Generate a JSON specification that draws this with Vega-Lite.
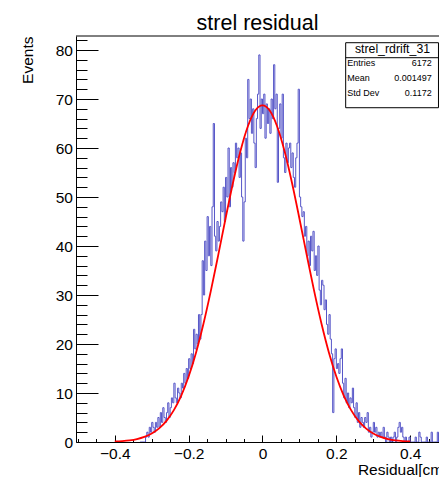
{
  "$schema": "https://vega.github.io/schema/vega-lite/v6.json",
  "width": 363,
  "height": 406,
  "autosize": {"type": "none"},
  "padding": {"left": 76, "top": 36, "right": 0, "bottom": 35},
  "background": "white",
  "config": {
    "view": {"stroke": null},
    "font": "Liberation Sans",
    "axis": {
      "labelFont": "Liberation Sans", "titleFont": "Liberation Sans",
      "labelFontSize": 15.5, "titleFontSize": 15.5, "titleFontWeight": "normal",
      "labelColor": "#000", "titleColor": "#000", "tickColor": "#000", "domainColor": "#000",
      "grid": false, "labelOverlap": false, "labelFlush": false, "labelBound": false,
      "tickWidth": 1, "domainWidth": 1, "zindex": 1
    },
    "text": {"font": "Liberation Sans", "color": "#000"}
  },
  "title": {"text": "strel residual", "font": "Liberation Sans", "fontSize": 21.5, "fontWeight": "normal", "color": "#000", "anchor": "middle", "frame": "group", "baseline": "alphabetic", "offset": 5.5, "dy": 21.5},
  "datasets": {
    "hist": [
      {"x":-0.3317,"n":0},{"x":-0.3283,"n":0},{"x":-0.325,"n":0},{"x":-0.3217,"n":0},{"x":-0.3183,"n":0},
      {"x":-0.315,"n":1},{"x":-0.3117,"n":2},{"x":-0.3083,"n":1},{"x":-0.305,"n":3},{"x":-0.3017,"n":2},
      {"x":-0.2983,"n":4},{"x":-0.295,"n":3},{"x":-0.2917,"n":2},{"x":-0.2883,"n":4},{"x":-0.285,"n":3},
      {"x":-0.2817,"n":5},{"x":-0.2783,"n":3},{"x":-0.275,"n":6},{"x":-0.2717,"n":4},{"x":-0.2683,"n":7},
      {"x":-0.265,"n":5},{"x":-0.2617,"n":4},{"x":-0.2583,"n":6},{"x":-0.255,"n":8},{"x":-0.2517,"n":5},
      {"x":-0.2483,"n":7},{"x":-0.245,"n":9},{"x":-0.2417,"n":8},{"x":-0.2383,"n":12},{"x":-0.235,"n":9},
      {"x":-0.2317,"n":8},{"x":-0.2283,"n":11},{"x":-0.225,"n":10},{"x":-0.2217,"n":9},{"x":-0.2183,"n":12},
      {"x":-0.215,"n":11},{"x":-0.2117,"n":14},{"x":-0.2083,"n":12},{"x":-0.205,"n":15},{"x":-0.2017,"n":13},
      {"x":-0.1983,"n":17},{"x":-0.195,"n":15},{"x":-0.1917,"n":18},{"x":-0.1883,"n":16},{"x":-0.185,"n":23},
      {"x":-0.1817,"n":19},{"x":-0.1783,"n":22},{"x":-0.175,"n":20},{"x":-0.1717,"n":26},{"x":-0.1683,"n":21},
      {"x":-0.165,"n":26},{"x":-0.1617,"n":37},{"x":-0.1583,"n":30},{"x":-0.155,"n":41},{"x":-0.1517,"n":35},
      {"x":-0.1483,"n":46},{"x":-0.145,"n":38},{"x":-0.1417,"n":44},{"x":-0.1383,"n":36},{"x":-0.135,"n":48},
      {"x":-0.1317,"n":65},{"x":-0.1283,"n":42},{"x":-0.125,"n":39},{"x":-0.1217,"n":45},{"x":-0.1183,"n":41},
      {"x":-0.115,"n":44},{"x":-0.1117,"n":49},{"x":-0.1083,"n":47},{"x":-0.105,"n":52},{"x":-0.1017,"n":45},
      {"x":-0.0983,"n":54},{"x":-0.095,"n":50},{"x":-0.0917,"n":60},{"x":-0.0883,"n":48},{"x":-0.085,"n":56},
      {"x":-0.0817,"n":52},{"x":-0.0783,"n":57},{"x":-0.075,"n":55},{"x":-0.0717,"n":61},{"x":-0.0683,"n":58},
      {"x":-0.065,"n":60},{"x":-0.0617,"n":54},{"x":-0.0583,"n":59},{"x":-0.055,"n":50},{"x":-0.0517,"n":41},
      {"x":-0.0483,"n":49},{"x":-0.045,"n":62},{"x":-0.0417,"n":58},{"x":-0.0383,"n":74},{"x":-0.035,"n":66},
      {"x":-0.0317,"n":70},{"x":-0.0283,"n":63},{"x":-0.025,"n":68},{"x":-0.0217,"n":61},{"x":-0.0183,"n":56},
      {"x":-0.015,"n":66},{"x":-0.0117,"n":71},{"x":-0.0083,"n":79},{"x":-0.005,"n":64},{"x":-0.0017,"n":70},
      {"x":0.0017,"n":67},{"x":0.005,"n":71},{"x":0.0083,"n":62},{"x":0.0117,"n":69},{"x":0.015,"n":65},
      {"x":0.0183,"n":68},{"x":0.0217,"n":63},{"x":0.025,"n":70},{"x":0.0283,"n":66},{"x":0.0317,"n":77},
      {"x":0.035,"n":68},{"x":0.0383,"n":71},{"x":0.0417,"n":53},{"x":0.045,"n":64},{"x":0.0483,"n":69},
      {"x":0.0517,"n":62},{"x":0.055,"n":71},{"x":0.0583,"n":58},{"x":0.0617,"n":55},{"x":0.065,"n":61},
      {"x":0.0683,"n":57},{"x":0.0717,"n":60},{"x":0.075,"n":61},{"x":0.0783,"n":56},{"x":0.0817,"n":59},
      {"x":0.085,"n":54},{"x":0.0883,"n":52},{"x":0.0917,"n":58},{"x":0.095,"n":61},{"x":0.0983,"n":72},
      {"x":0.1017,"n":50},{"x":0.105,"n":48},{"x":0.1083,"n":46},{"x":0.1117,"n":47},{"x":0.115,"n":42},
      {"x":0.1183,"n":44},{"x":0.1217,"n":38},{"x":0.125,"n":41},{"x":0.1283,"n":36},{"x":0.1317,"n":42},
      {"x":0.135,"n":39},{"x":0.1383,"n":43},{"x":0.1417,"n":35},{"x":0.145,"n":38},{"x":0.1483,"n":34},
      {"x":0.1517,"n":40},{"x":0.155,"n":31},{"x":0.1583,"n":28},{"x":0.1617,"n":33},{"x":0.165,"n":32},
      {"x":0.1683,"n":27},{"x":0.1717,"n":29},{"x":0.175,"n":24},{"x":0.1783,"n":22},{"x":0.1817,"n":26},
      {"x":0.185,"n":21},{"x":0.1883,"n":18},{"x":0.1917,"n":6},{"x":0.195,"n":17},{"x":0.1983,"n":19},
      {"x":0.2017,"n":15},{"x":0.205,"n":16},{"x":0.2083,"n":14},{"x":0.2117,"n":17},{"x":0.215,"n":19},
      {"x":0.2183,"n":12},{"x":0.2217,"n":9},{"x":0.225,"n":13},{"x":0.2283,"n":8},{"x":0.2317,"n":10},
      {"x":0.235,"n":7},{"x":0.2383,"n":9},{"x":0.2417,"n":8},{"x":0.245,"n":11},{"x":0.2483,"n":7},
      {"x":0.2517,"n":5},{"x":0.255,"n":8},{"x":0.2583,"n":4},{"x":0.2617,"n":6},{"x":0.265,"n":3},
      {"x":0.2683,"n":5},{"x":0.2717,"n":4},{"x":0.275,"n":3},{"x":0.2783,"n":5},{"x":0.2817,"n":4},
      {"x":0.285,"n":6},{"x":0.2883,"n":2},{"x":0.2917,"n":3},{"x":0.295,"n":1},{"x":0.2983,"n":2},
      {"x":0.3017,"n":4},{"x":0.305,"n":2},{"x":0.3083,"n":3},{"x":0.3117,"n":1},{"x":0.315,"n":2},
      {"x":0.3183,"n":1},{"x":0.3217,"n":2},{"x":0.325,"n":1},{"x":0.3283,"n":3},{"x":0.3317,"n":1},
      {"x":0.335,"n":0},{"x":0.3383,"n":2},{"x":0.3417,"n":1},{"x":0.345,"n":0},{"x":0.3483,"n":1},
      {"x":0.3517,"n":0},{"x":0.355,"n":1},{"x":0.3583,"n":2},{"x":0.3617,"n":0},{"x":0.365,"n":1},
      {"x":0.3683,"n":3},{"x":0.3717,"n":4},{"x":0.375,"n":2},{"x":0.3783,"n":3},{"x":0.3817,"n":1},
      {"x":0.385,"n":0},{"x":0.3883,"n":1},{"x":0.3917,"n":0},{"x":0.395,"n":0},{"x":0.3983,"n":1},
      {"x":0.4017,"n":0},{"x":0.405,"n":0},{"x":0.4083,"n":0},{"x":0.4117,"n":0},{"x":0.415,"n":1},
      {"x":0.4183,"n":0},{"x":0.4217,"n":0},{"x":0.425,"n":2},{"x":0.4283,"n":1},{"x":0.4317,"n":0},
      {"x":0.435,"n":0},{"x":0.4383,"n":0},{"x":0.4417,"n":0},{"x":0.445,"n":1},{"x":0.4483,"n":0},
      {"x":0.4517,"n":0},{"x":0.455,"n":0},{"x":0.4583,"n":2},{"x":0.4617,"n":0},{"x":0.465,"n":0},
      {"x":0.4683,"n":0},{"x":0.4717,"n":0},{"x":0.475,"n":2},{"x":0.4783,"n":0},{"x":0.4817,"n":0}
    ],
    "fit": [
      {"x":-0.4,"f":0.10},{"x":-0.38,"f":0.19},{"x":-0.36,"f":0.34},{"x":-0.34,"f":0.60},{"x":-0.32,"f":1.04},
      {"x":-0.3,"f":1.72},{"x":-0.28,"f":2.77},{"x":-0.26,"f":4.31},{"x":-0.24,"f":6.50},{"x":-0.22,"f":9.47},
      {"x":-0.2,"f":13.36},{"x":-0.18,"f":18.23},{"x":-0.16,"f":24.08},{"x":-0.14,"f":30.79},{"x":-0.12,"f":38.09},
      {"x":-0.1,"f":45.62},{"x":-0.08,"f":52.86},{"x":-0.06,"f":59.28},{"x":-0.04,"f":64.34},{"x":-0.02,"f":67.59},
      {"x":0,"f":68.70},
      {"x":0.02,"f":67.59},{"x":0.04,"f":64.34},{"x":0.06,"f":59.28},{"x":0.08,"f":52.86},{"x":0.1,"f":45.62},
      {"x":0.12,"f":38.09},{"x":0.14,"f":30.79},{"x":0.16,"f":24.08},{"x":0.18,"f":18.23},{"x":0.2,"f":13.36},
      {"x":0.22,"f":9.47},{"x":0.24,"f":6.50},{"x":0.26,"f":4.31},{"x":0.28,"f":2.77},{"x":0.3,"f":1.72},
      {"x":0.32,"f":1.04},{"x":0.34,"f":0.60},{"x":0.36,"f":0.34},{"x":0.38,"f":0.19},{"x":0.4,"f":0.10}
    ]
  },
  "resolve": {"axis": {"x": "independent", "y": "independent"}},
  "layer": [
    {
      "layer": [
        {
          "data": {"name": "hist"},
          "mark": {"type": "line", "interpolate": "step", "color": "#5656c8", "strokeWidth": 1, "clip": true},
          "encoding": {
            "x": {
              "field": "x", "type": "quantitative",
              "scale": {"domain": [-0.505, 0.478], "nice": false, "zero": false},
              "axis": {
                "orient": "bottom",
                "values": [-0.4, -0.2, 0, 0.2, 0.4],
                "format": "~g",
                "tickSize": -7,
                "labelBaseline": "alphabetic",
                "labelPadding": 23,
                "labelOverlap": false,
                "title": "Residual[cm]",
                "titleX": 371, "titleY": 32, "titleAlign": "right", "titleBaseline": "alphabetic", "titleAnchor": "end"
              }
            },
            "y": {
              "field": "n", "type": "quantitative",
              "scale": {"domain": [0, 82.86], "nice": false},
              "axis": {
                "orient": "left",
                "values": [0, 10, 20, 30, 40, 50, 60, 70, 80],
                "tickSize": -22,
                "labelPadding": 25.5,
                "labelOverlap": false,
                "title": "Events",
                "titleX": -49, "titleY": 0, "titleAlign": "right", "titleBaseline": "middle", "titleAngle": -90, "titleAnchor": "end"
              }
            }
          }
        },
        {
          "data": {"values": [{}]},
          "mark": {"type": "rule", "color": "#000", "strokeWidth": 1},
          "encoding": {"y": {"datum": 82.86}}
        },
        {
          "data": {"values": [{}]},
          "mark": {"type": "rect", "fill": "white", "stroke": "#000", "strokeWidth": 1},
          "encoding": {"x": {"datum": 0.2253}, "x2": {"datum": 0.4766}, "y": {"datum": 81.49}, "y2": {"datum": 68.22}}
        },
        {
          "data": {"values": [{}]},
          "mark": {"type": "rule", "color": "#000", "strokeWidth": 1},
          "encoding": {"x": {"datum": 0.2253}, "x2": {"datum": 0.4766}, "y": {"datum": 78.43}}
        },
        {
          "data": {"values": [{}]},
          "mark": {"type": "text", "text": "strel_rdrift_31", "fontSize": 12.3, "align": "center", "baseline": "alphabetic"},
          "encoding": {"x": {"datum": 0.352}, "y": {"datum": 79.33}}
        },
        {
          "data": {"values": [{}]},
          "mark": {"type": "text", "text": "Entries", "fontSize": 9, "align": "left", "baseline": "alphabetic"},
          "encoding": {"x": {"datum": 0.2296}, "y": {"datum": 76.68}}
        },
        {
          "data": {"values": [{}]},
          "mark": {"type": "text", "text": "6172", "fontSize": 9, "align": "right", "baseline": "alphabetic"},
          "encoding": {"x": {"datum": 0.4582}, "y": {"datum": 76.68}}
        },
        {
          "data": {"values": [{}]},
          "mark": {"type": "text", "text": "Mean", "fontSize": 9, "align": "left", "baseline": "alphabetic"},
          "encoding": {"x": {"datum": 0.2296}, "y": {"datum": 73.62}}
        },
        {
          "data": {"values": [{}]},
          "mark": {"type": "text", "text": "0.001497", "fontSize": 9, "align": "right", "baseline": "alphabetic"},
          "encoding": {"x": {"datum": 0.4582}, "y": {"datum": 73.62}}
        },
        {
          "data": {"values": [{}]},
          "mark": {"type": "text", "text": "Std Dev", "fontSize": 9, "align": "left", "baseline": "alphabetic"},
          "encoding": {"x": {"datum": 0.2296}, "y": {"datum": 70.68}}
        },
        {
          "data": {"values": [{}]},
          "mark": {"type": "text", "text": "0.1172", "fontSize": 9, "align": "right", "baseline": "alphabetic"},
          "encoding": {"x": {"datum": 0.4582}, "y": {"datum": 70.68}}
        }
      ]
    },
    {
      "data": {"name": "fit"},
      "mark": {"type": "line", "interpolate": "monotone", "color": "#ff0000", "strokeWidth": 1.8, "clip": true},
      "encoding": {
        "x": {
          "field": "x", "type": "quantitative",
          "axis": {
            "orient": "bottom",
            "values": [-0.5,-0.45,-0.35,-0.3,-0.25,-0.15,-0.1,-0.05,0.05,0.1,0.15,0.25,0.3,0.35,0.45],
            "tickSize": -3.5, "labels": false, "domain": false, "title": null
          }
        },
        "y": {
          "field": "f", "type": "quantitative",
          "axis": {
            "orient": "left",
            "values": [2,4,6,8,12,14,16,18,22,24,26,28,32,34,36,38,42,44,46,48,52,54,56,58,62,64,66,68,72,74,76,78,82],
            "tickSize": -11, "labels": false, "domain": false, "title": null
          }
        }
      }
    }
  ]
}
